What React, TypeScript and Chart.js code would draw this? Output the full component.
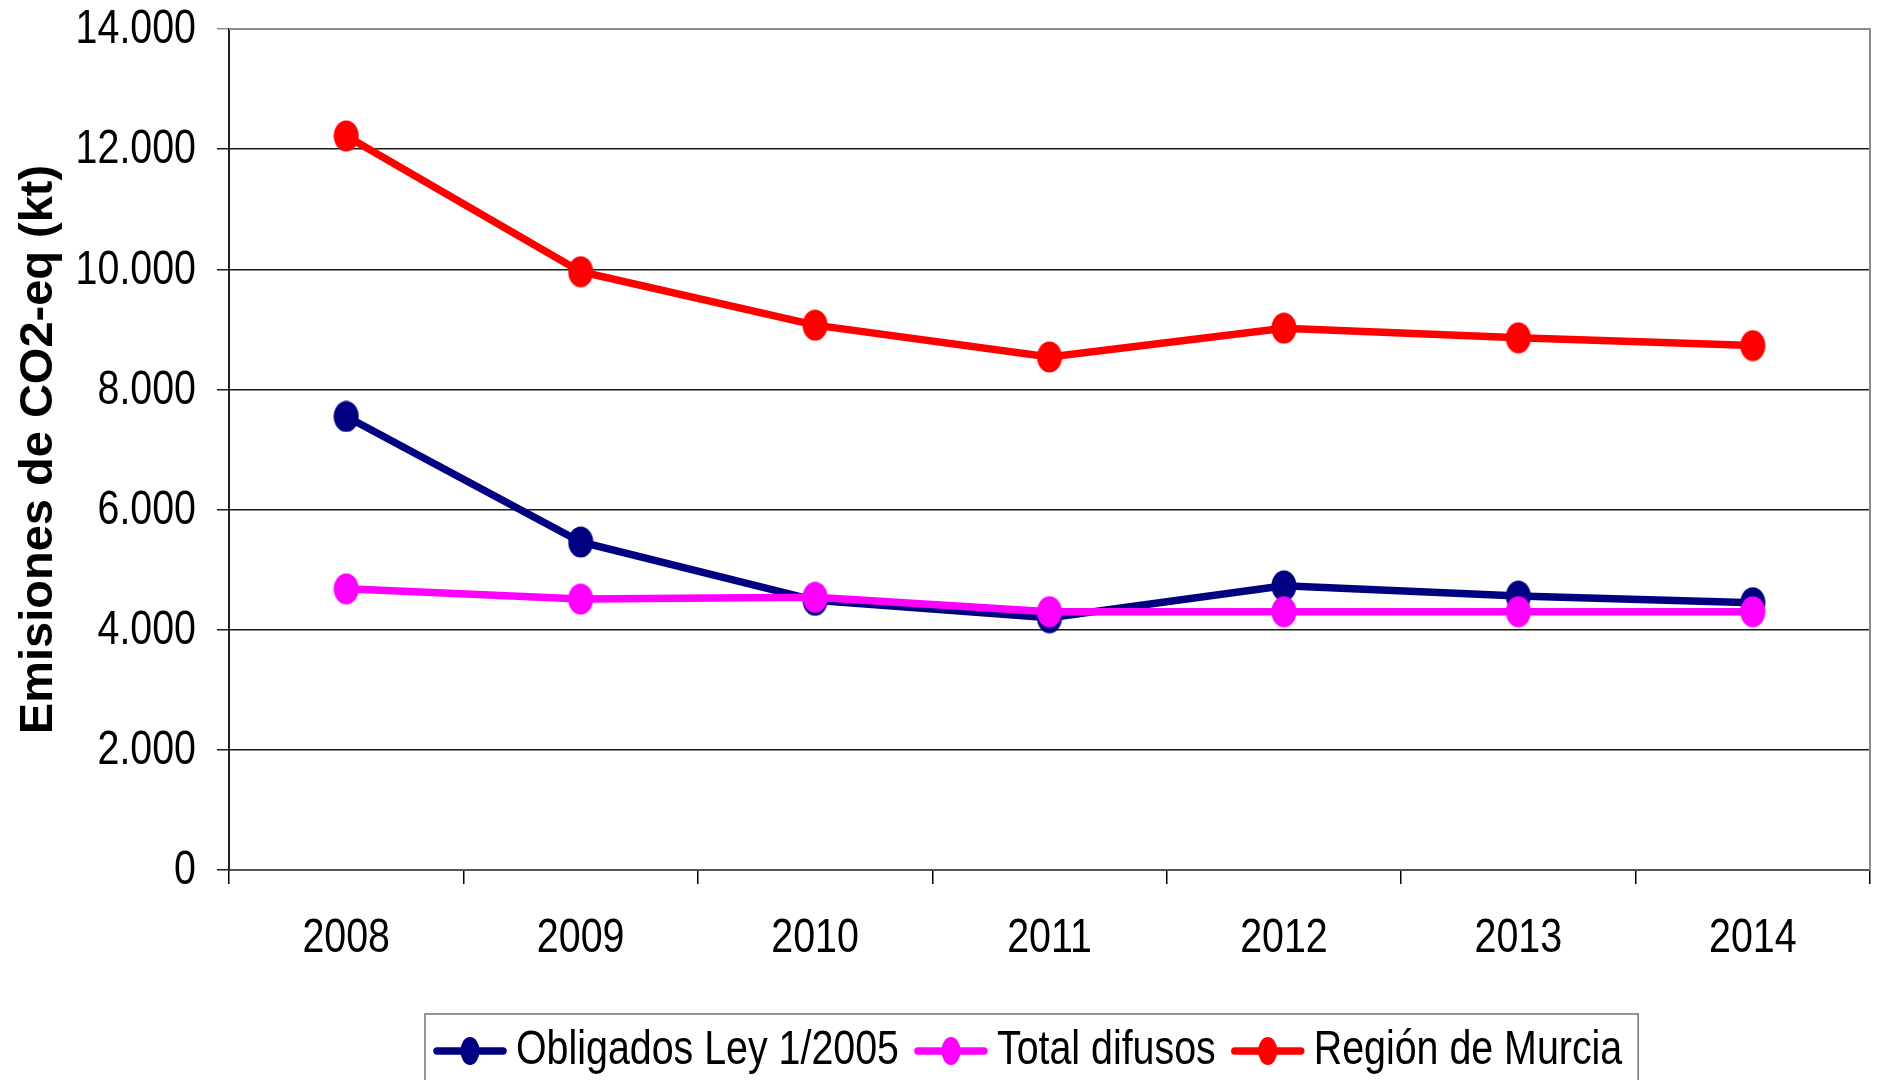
import React, { useEffect, useRef } from "react";
import { Chart, registerables } from "chart.js";

Chart.register(...registerables);

const years = ["2008", "2009", "2010", "2011", "2012", "2013", "2014"];
const obligados = [7550, 5460, 4490, 4200, 4730, 4560, 4450];
const difusos = [4680, 4510, 4540, 4300, 4300, 4300, 4300];
const murcia = [12220, 9960, 9070, 8540, 9020, 8860, 8730];
const seriesNames = ["Obligados Ley 1/2005", "Total difusos", "Región de Murcia"];
const seriesColors = ["#000080", "#FF00FF", "#FF0000"];
const yTicks = [0, 2000, 4000, 6000, 8000, 10000, 12000, 14000];
const yTitle = "Emisiones de CO2-eq (kt)";

const FONT = "'Liberation Sans', Arial, sans-serif";
const NARROW = 0.82;

function ellipse(color: string, w: number, h: number) {
  const c = document.createElement("canvas");
  c.width = w;
  c.height = h;
  const ctx = c.getContext("2d")!;
  ctx.fillStyle = color;
  ctx.beginPath();
  ctx.ellipse(w / 2, h / 2, w / 2 - 0.5, h / 2 - 0.5, 0, 0, Math.PI * 2);
  ctx.fill();
  return c;
}

function fmt(v: number) {
  return String(v).replace(/\B(?=(\d{3})+(?!\d))/g, ".");
}

function narrowText(ctx: any, text: string, x: number, y: number, align: string) {
  ctx.save();
  ctx.translate(x, y);
  ctx.scale(NARROW, 1);
  ctx.textAlign = align;
  ctx.textBaseline = "middle";
  ctx.fillText(text, 0, 0);
  ctx.restore();
}

const borderPlugin = {
  id: "borders",
  afterDatasetsDraw(chart: any) {
    const { ctx, chartArea } = chart;
    ctx.save();
    ctx.strokeStyle = "#8c8c8c";
    ctx.lineWidth = 2;
    ctx.beginPath();
    ctx.moveTo(chartArea.left, chartArea.top);
    ctx.lineTo(chartArea.right, chartArea.top);
    ctx.lineTo(chartArea.right, chartArea.bottom);
    ctx.stroke();
    ctx.restore();
  },
};

const tickLabelPlugin = {
  id: "tickLabels",
  afterDraw(chart: any) {
    const { ctx } = chart;
    const xs = chart.scales.x;
    const ys = chart.scales.y;
    ctx.save();
    ctx.fillStyle = "#000";
    ctx.font = `48px ${FONT}`;
    yTicks.forEach((v) => {
      narrowText(ctx, fmt(v), 196, ys.getPixelForValue(v) + 1, "right");
    });
    years.forEach((y, i) => {
      narrowText(ctx, y, xs.getPixelForValue(i), 939, "center");
    });
    ctx.restore();
  },
};

const legendPlugin = {
  id: "customLegend",
  afterDraw(chart: any) {
    const { ctx } = chart;
    ctx.save();
    ctx.font = `48px ${FONT}`;
    const symW = 72;
    const gapText = 10;
    const gapItem = 16;
    const widths = seriesNames.map((n) => ctx.measureText(n).width * NARROW);
    const content =
      widths.reduce((a, b) => a + b, 0) + seriesNames.length * (symW + gapText) + gapItem * (seriesNames.length - 1);
    const boxW = content + 9 + 16;
    const boxL = Math.round(1032 - boxW / 2);
    const boxT = 1014;
    ctx.strokeStyle = "#707070";
    ctx.lineWidth = 1.5;
    ctx.strokeRect(boxL, boxT, boxW, 100);
    let x = boxL + 9;
    const cy = 1051;
    seriesNames.forEach((name, i) => {
      ctx.strokeStyle = seriesColors[i];
      ctx.lineWidth = 7.5;
      ctx.lineCap = "round";
      ctx.beginPath();
      ctx.moveTo(x + 3, cy);
      ctx.lineTo(x + symW - 3, cy);
      ctx.stroke();
      ctx.fillStyle = seriesColors[i];
      ctx.beginPath();
      ctx.ellipse(x + symW / 2, cy, 9.5, 14, 0, 0, Math.PI * 2);
      ctx.fill();
      ctx.fillStyle = "#000";
      narrowText(ctx, name, x + symW + gapText, cy, "left");
      x += symW + gapText + widths[i] + gapItem;
    });
    ctx.restore();
  },
};

export default function App() {
  const ref = useRef<HTMLCanvasElement>(null);
  useEffect(() => {
    const data = [obligados, difusos, murcia];
    const chart = new Chart(ref.current!, {
      type: "line",
      data: {
        labels: years,
        datasets: data.map((d, i) => ({
          label: seriesNames[i],
          data: d,
          borderColor: seriesColors[i],
          backgroundColor: seriesColors[i],
          borderWidth: 7.5,
          pointStyle: ellipse(seriesColors[i], 26, 32) as any,
          pointRadius: 13,
          order: 2 - i,
          tension: 0,
        })),
      },
      options: {
        responsive: false,
        animation: false,
        events: [],
        layout: { autoPadding: false, padding: { left: 0, top: 29, right: 9, bottom: 0 } },
        plugins: { legend: { display: false }, tooltip: { enabled: false } },
        scales: {
          x: {
            type: "category",
            offset: true,
            grid: {
              offset: true,
              drawOnChartArea: false,
              tickLength: 14,
              color: "#000",
              lineWidth: 1.5,
            },
            border: { display: true, color: "#555", width: 2 },
            ticks: { display: false },
            afterFit: (s: any) => {
              s.height = 210;
              s.paddingLeft = 0;
              s.paddingRight = 0;
            },
          },
          y: {
            min: 0,
            max: 14000,
            afterBuildTicks: (s: any) => {
              s.ticks = yTicks.map((v) => ({ value: v }));
            },
            grid: {
              color: (c: any) => (c.tick && c.tick.value === 14000 ? "#8c8c8c" : "#1a1a1a"),
              lineWidth: 1.5,
              tickLength: 12,
            },
            border: { display: true, color: "#222", width: 2 },
            ticks: { display: false },
            title: {
              display: true,
              text: yTitle,
              color: "#000",
              font: { family: FONT, size: 47, weight: "bold" },
              padding: { top: 11, bottom: 0 },
            },
            afterFit: (s: any) => {
              s.width = 229;
              s.paddingTop = 0;
              s.paddingBottom = 0;
            },
          },
        },
      },
      plugins: [borderPlugin, tickLabelPlugin, legendPlugin],
    });
    return () => chart.destroy();
  }, []);
  return (
    <div style={{ position: "fixed", left: 0, top: 0, width: 1879, height: 1080, background: "#fff" }}>
      <canvas ref={ref} width={1879} height={1080} style={{ display: "block" }} />
    </div>
  );
}
